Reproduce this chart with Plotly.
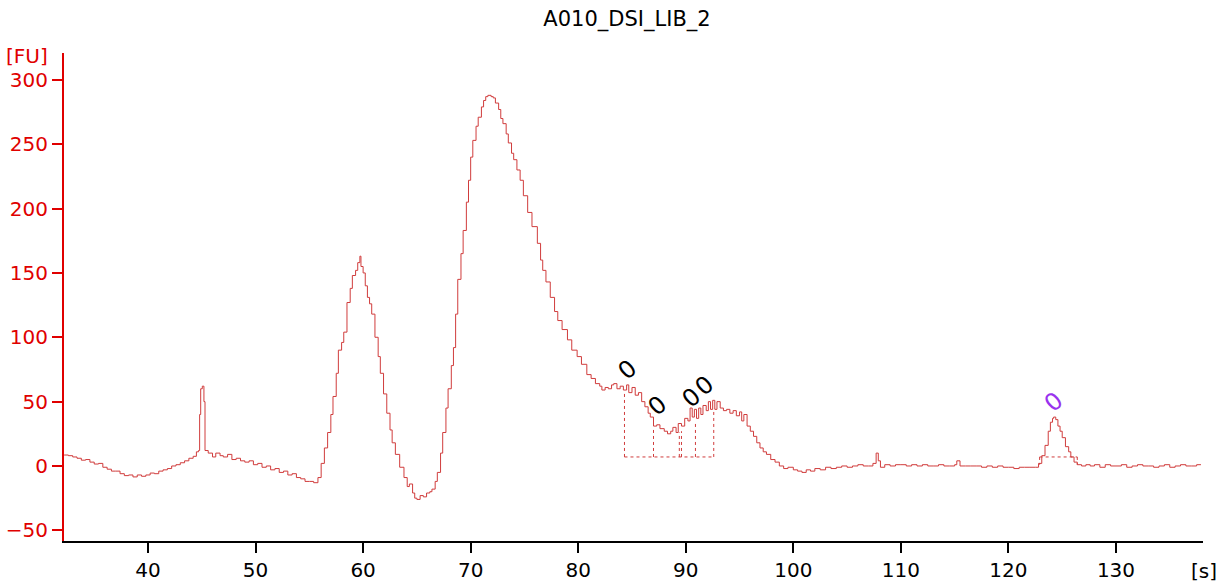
import plotly.graph_objects as go

title_text = "A010_DSI_LIB_2"

time_s = [32.2, 32.6, 33.0, 33.4, 33.8, 34.2, 34.6, 35.0, 35.4, 35.8, 36.2, 36.6, 37.0, 37.4, 37.8,
          38.2, 38.6, 39.0, 39.4, 39.8, 40.2, 40.6, 41.0, 41.4, 41.8, 42.2, 42.6, 43.0, 43.4, 43.8,
          44.2, 44.5, 44.7, 44.8, 44.9, 45.05, 45.2, 45.3, 45.6, 46.0, 46.3, 46.7, 47.0, 47.4, 47.8,
          48.2, 48.6, 49.0, 49.4, 49.8, 50.2, 50.6, 51.0, 51.4, 51.8, 52.2, 52.6, 53.0, 53.4, 53.8,
          54.2, 54.6, 55.0, 55.4, 55.8, 56.1, 56.4, 56.7, 57.0, 57.2, 57.5, 57.7, 58.0, 58.2, 58.5,
          58.8, 59.0, 59.3, 59.5, 59.7, 59.8, 60.0, 60.2, 60.4, 60.6, 60.8, 61.1, 61.4, 61.6, 61.9,
          62.2, 62.5, 62.7, 63.0, 63.4, 63.8, 64.1, 64.3, 64.6, 64.8, 65.0, 65.3, 65.6, 65.9, 66.2,
          66.4, 66.7, 66.9, 67.2, 67.4, 67.7, 67.9, 68.2, 68.4, 68.6, 68.8, 69.1, 69.3, 69.6, 69.8,
          70.0, 70.2, 70.5, 70.7, 71.0, 71.2, 71.4, 71.6, 71.9, 72.1, 72.3, 72.6, 72.8, 73.0, 73.3,
          73.5, 73.8, 74.0, 74.3, 74.6, 74.9, 75.3, 75.7, 76.2, 76.5, 76.7, 77.0, 77.4, 77.8, 78.1,
          78.5, 79.0, 79.4, 79.9, 80.3, 80.8, 81.2, 81.6, 82.0, 82.2, 82.5, 82.8, 83.1, 83.3, 83.6,
          83.9, 84.2, 84.5, 84.7, 85.0, 85.3, 85.6, 85.9, 86.2, 86.5, 86.7, 87.0, 87.3, 87.6, 88.0,
          88.3, 88.6, 88.8, 89.1, 89.3, 89.6, 89.9, 90.2, 90.4, 90.6, 90.8, 91.0, 91.2, 91.4, 91.6,
          91.9, 92.1, 92.3, 92.5, 92.7, 92.9, 93.2, 93.5, 93.8, 94.1, 94.4, 94.7, 95.0, 95.2, 95.4,
          95.7, 96.0, 96.3, 96.6, 96.9, 97.2, 97.5, 97.9, 98.3, 98.7, 99.1, 99.5, 100.0, 100.4, 100.8,
          101.2, 101.6, 102.0, 102.5, 103.0, 103.5, 104.0, 104.5, 105.0, 105.5, 106.0, 106.5, 107.0, 107.4, 107.7,
          107.9, 108.1, 108.5, 109.0, 109.5, 110.0, 110.5, 111.0, 111.5, 112.0, 112.5, 113.0, 113.5, 114.0, 114.5,
          115.0, 115.2, 115.5, 116.0, 116.5, 117.0, 117.5, 118.0, 118.5, 119.0, 119.5, 120.0, 120.5, 121.0, 121.5,
          122.0, 122.5, 122.8, 123.1, 123.4, 123.7, 123.9, 124.1, 124.2, 124.4, 124.6, 124.8, 125.0, 125.3, 125.6,
          125.8, 126.1, 126.4, 126.8, 127.2, 127.6, 128.0, 128.5, 129.0, 129.5, 130.0, 130.5, 131.0, 131.5, 132.0,
          132.5, 133.0, 133.5, 134.0, 134.5, 135.0, 135.5, 136.0, 136.5, 137.0, 137.5, 137.9]

fluorescence = [8.5, 8, 7, 6, 4.5, 5, 3, 1.5, 2, -1, -2.5, -4, -4, -6, -7.5,
                -7, -8.5, -7, -8, -7, -5.5, -6, -4, -3, -2, 0, 1, 2.5, 4, 6,
                7.5, 11, 12, 40, 60, 62, 50, 12, 10, 7, 10, 8, 7, 9, 5,
                6, 4, 3, 4, 1, 2, -1, 0, -3, -2, -5, -4, -7, -6, -9,
                -10, -12, -12, -13, -9, 2, 14, 26, 40, 54, 72, 90, 96, 104, 127,
                138, 148, 152, 158, 163, 155, 150, 140, 131, 126, 118, 100, 85, 72, 56,
                41, 28, 18, 9, -1, -9, -16, -14, -21, -25, -26, -23, -24, -21, -20,
                -18, -12, -5, 10, 26, 45, 60, 78, 92, 118, 145, 165, 183, 205, 222,
                240, 253, 264, 271, 279, 284, 287, 288, 287, 286, 282, 277, 270, 266, 258,
                251, 243, 238, 230, 222, 210, 197, 186, 173, 160, 152, 143, 131, 120, 113,
                106, 98, 90, 85, 79, 71, 68, 64, 62, 59, 61, 60, 63, 64, 60,
                62, 59, 63, 57, 61, 55, 57, 50, 46, 41, 38, 31, 32, 29, 27,
                25, 27, 30, 26, 33, 31, 37, 35, 45, 38, 44, 37, 45, 40, 47,
                43, 50, 44, 51, 44, 50, 45, 43, 44, 41, 43, 39, 42, 35, 40,
                31, 27, 23, 18, 14, 11, 9, 5, 3, 0, -2, -1, -3, -4, -5,
                -3, -4, -2, -3, -1, -2, -1, 0, -1, 0, 1, 0, 0, 2, 10,
                4, -1, 1, 0, 1, 1, 0, 1, 0, 1, 0, 0, 1, 0, 0,
                1, 4, 0, 0, 0, 0, -1, 0, -1, 0, -1, -1, -2, -1, -1,
                -1, -1, 2, 8, 16, 27, 34, 37, 38, 36, 31, 27, 22, 15, 11,
                7, 3, 1, 0, 1, 0, 1, -1, 1, 0, 0, 1, -1, 0, 1,
                0, 0, -1, 0, 1, -1, 0, 1, 0, 0, 1, 1]

# integration boundaries of the smear region
cluster_bounds = [84.3, 87.0, 89.4, 89.6, 90.9, 92.6]
cluster_tops = [57, 30, 26, 27, 34, 42]
cluster_base = 7
# marker peak region
marker_bounds = [122.9, 126.4]
marker_tops = [1, 1]
marker_base = 7

# peak labels
label_x = [84.56, 87.35, 90.5, 91.7]
label_y = [74.6, 46.6, 52.8, 62.2]
marker_label_x = [124.2]
marker_label_y = [49.7]
label_text = "0"

y_ticks = [-50, 0, 50, 100, 150, 200, 250, 300]
x_ticks = [40, 50, 60, 70, 80, 90, 100, 110, 120, 130]

LINE = "#d03c3c"
RED = "#e00000"
FONT = "DejaVu Sans"

fig = go.Figure()

fig.add_trace(go.Scatter(x=time_s, y=fluorescence, mode="lines",
                         line=dict(color=LINE, width=1, shape="hv"), showlegend=False,
                         hoverinfo="skip"))

def dotted(xs, ys):
    fig.add_trace(go.Scatter(x=xs, y=ys, mode="lines",
                             line=dict(color=LINE, width=1, dash="dot"),
                             showlegend=False, hoverinfo="skip"))

dotted([cluster_bounds[0], cluster_bounds[-1]], [cluster_base, cluster_base])
for bx, bt in zip(cluster_bounds, cluster_tops):
    dotted([bx, bx], [cluster_base, bt])
dotted([marker_bounds[0], marker_bounds[-1]], [marker_base, marker_base])
for bx, bt in zip(marker_bounds, marker_tops):
    dotted([bx, bx], [marker_base, bt])

annotations = []
for lx, ly in zip(label_x, label_y):
    annotations.append(dict(x=lx, y=ly, xref="x", yref="y", text=label_text,
                            showarrow=False, textangle=-40,
                            font=dict(family=FONT, size=24, color="black")))
for lx, ly in zip(marker_label_x, marker_label_y):
    annotations.append(dict(x=lx, y=ly, xref="x", yref="y", text=label_text,
                            showarrow=False, textangle=-40,
                            font=dict(family=FONT, size=24, color="#9933ee")))

W, H = 1221, 587
L, T = 64, 53
R, B = 18, 46
pw, ph = W - L - R, H - T - B

def px_to_paper(px, py):
    return ((px - L) / pw, (H - B - py) / ph)

fu_x, fu_y = px_to_paper(27, 56)
s_x, s_y = px_to_paper(1204, 571)
annotations.append(dict(x=fu_x, y=fu_y, xref="paper", yref="paper", text="[FU]",
                        showarrow=False, xanchor="center", yanchor="middle",
                        font=dict(family=FONT, size=20, color=RED)))
annotations.append(dict(x=s_x, y=s_y, xref="paper", yref="paper", text="[s]",
                        showarrow=False, xanchor="center", yanchor="middle",
                        font=dict(family=FONT, size=20, color="black")))

fig.update_layout(
    width=W, height=H,
    paper_bgcolor="white", plot_bgcolor="white",
    margin=dict(l=L, r=R, t=T, b=B, autoexpand=False),
    title=dict(text=title_text, x=627 / W, xanchor="center", y=1 - 19 / H,
               yanchor="middle", font=dict(family=FONT, size=21, color="black")),
    annotations=annotations,
    xaxis=dict(range=[32.19, 138.09], tickvals=x_ticks, showgrid=False, zeroline=False,
               showline=True, linecolor="black", linewidth=2, automargin=False,
               ticks="outside", ticklen=10, tickwidth=2, tickcolor="black",
               tickfont=dict(family=FONT, size=20, color="black")),
    yaxis=dict(range=[-58.3, 320.9], tickvals=y_ticks, showgrid=False, zeroline=False,
               showline=True, linecolor=RED, linewidth=2, automargin=False,
               ticks="outside", ticklen=10, tickwidth=2, tickcolor=RED,
               tickfont=dict(family=FONT, size=20, color=RED)),
)

fig.write_html("out.html", config={"displayModeBar": False},
               post_script="document.body.style.margin='0';document.body.style.overflow='hidden';")
